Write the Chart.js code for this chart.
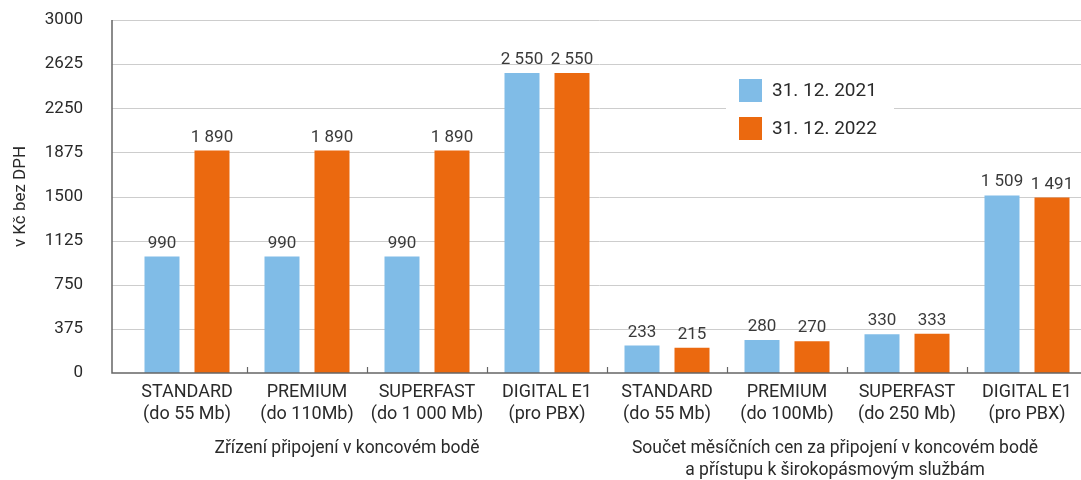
<!DOCTYPE html>
<html>
<head>
<meta charset="utf-8">
<script src="https://cdn.jsdelivr.net/npm/chart.js@4/dist/chart.umd.min.js"></script>
<style>
  html, body { margin: 0; padding: 0; background: #fff; overflow: hidden; width: 1081px; height: 480px; }
  #wrap { position: relative; width: 1087px; height: 480px; }
</style>
</head>
<body>
<div id="wrap"><canvas id="c"></canvas></div>
<script>
// ---- data ----
const categories = [
  ['STANDARD', '(do 55 Mb)'],
  ['PREMIUM', '(do 110Mb)'],
  ['SUPERFAST', '(do 1 000 Mb)'],
  ['DIGITAL E1', '(pro PBX)'],
  ['STANDARD', '(do 55 Mb)'],
  ['PREMIUM', '(do 100Mb)'],
  ['SUPERFAST', '(do 250 Mb)'],
  ['DIGITAL E1', '(pro PBX)']
];
const series2021 = [990, 990, 990, 2550, 233, 280, 330, 1509];
const series2022 = [1890, 1890, 1890, 2550, 215, 270, 333, 1491];
const seriesNames = ['31. 12. 2021', '31. 12. 2022'];
const groupTitles = [
  ['Zřízení připojení v koncovém bodě'],
  ['Součet měsíčních cen za připojení v koncovém bodě', 'a přístupu k širokopásmovým službám']
];
const groupRanges = [[0, 3], [4, 7]];
const yTicks = [0, 375, 750, 1125, 1500, 1875, 2250, 2625, 3000];
const yTitle = 'v Kč bez DPH';

// ---- style ----
const BLUE = '#80BCE7';
const ORANGE = '#EB690F';
const FONT = 'Roboto, "Noto Sans", sans-serif';
const TEXT = '#2a2a2a';
const GRID = '#cdcdcd';
const AXIS = '#666666';
const AXIS_X = 112;
const groupShift = [-20, -12];

function fmt(v) {
  return String(v).replace(/\B(?=(\d{3})+(?!\d))/g, ' ');
}

const decor = {
  id: 'decor',
  beforeDatasetsDraw(chart) {
    const ctx = chart.ctx, y = chart.scales.y;
    ctx.save();
    ctx.strokeStyle = GRID;
    ctx.lineWidth = 1;
    yTicks.forEach(v => {
      if (v === 0) return;
      const py = Math.round(y.getPixelForValue(v)) + 0.5;
      ctx.beginPath();
      ctx.moveTo(AXIS_X, py);
      ctx.lineTo(chart.width, py);
      ctx.stroke();
    });
    ctx.restore();
  },
  afterDatasetsDraw(chart) {
    const ctx = chart.ctx, x = chart.scales.x, y = chart.scales.y;
    const bottom = y.getPixelForValue(0), top = y.getPixelForValue(3000);
    ctx.save();
    ctx.strokeStyle = AXIS;
    ctx.lineWidth = 1.5;
    ctx.beginPath();
    ctx.moveTo(AXIS_X, top);
    ctx.lineTo(AXIS_X, bottom);
    ctx.lineTo(chart.width, bottom);
    ctx.stroke();
    ctx.lineWidth = 1.2;
    for (let i = 0; i < categories.length - 1; i++) {
      const bx = Math.round((x.getPixelForValue(i) + x.getPixelForValue(i + 1)) / 2) + 0.5;
      ctx.beginPath();
      ctx.moveTo(bx, bottom);
      ctx.lineTo(bx, bottom - 6);
      ctx.stroke();
    }
    // value labels
    ctx.fillStyle = '#3a3a3a';
    ctx.font = '17px ' + FONT;
    ctx.textAlign = 'center';
    ctx.textBaseline = 'alphabetic';
    chart.data.datasets.forEach((ds, di) => {
      const meta = chart.getDatasetMeta(di);
      meta.data.forEach((bar, i) => {
        ctx.fillText(fmt(ds.data[i]), bar.x, bar.y - 9);
      });
    });
    ctx.restore();
  },
  afterDraw(chart) {
    const ctx = chart.ctx, x = chart.scales.x;
    ctx.save();
    // group titles
    ctx.fillStyle = TEXT;
    ctx.font = '17.5px ' + FONT;
    ctx.textAlign = 'center';
    ctx.textBaseline = 'middle';
    groupTitles.forEach((lines, g) => {
      const [a, b] = groupRanges[g];
      const cx = (x.getPixelForValue(a) + x.getPixelForValue(b)) / 2 + groupShift[g];
      lines.forEach((t, li) => ctx.fillText(t, cx, 449 + li * 22));
    });
    // legend
    ctx.fillStyle = '#ffffff';
    ctx.fillRect(726, 70, 168, 76);
    const colors = [BLUE, ORANGE];
    ctx.font = '19px ' + FONT;
    ctx.textAlign = 'left';
    seriesNames.forEach((n, i) => {
      const sy = 79 + i * 38;
      ctx.fillStyle = colors[i];
      ctx.fillRect(739, sy, 23, 23);
      ctx.fillStyle = TEXT;
      ctx.fillText(n, 772, sy + 12);
    });
    ctx.restore();
  }
};

new Chart(document.getElementById('c'), {
  type: 'bar',
  data: {
    labels: categories,
    datasets: [
      { label: seriesNames[0], data: series2021, backgroundColor: BLUE, categoryPercentage: 0.8333, barPercentage: 0.7 },
      { label: seriesNames[1], data: series2022, backgroundColor: ORANGE, categoryPercentage: 0.8333, barPercentage: 0.7 }
    ]
  },
  options: {
    responsive: true,
    maintainAspectRatio: false,
    animation: false,
    layout: { padding: { top: 20, left: 0, right: 0, bottom: 47 } },
    plugins: { legend: { display: false }, tooltip: { enabled: false } },
    scales: {
      x: {
        grid: { display: false, drawTicks: false },
        border: { display: false },
        ticks: { color: TEXT, font: { family: FONT, size: 18, lineHeight: 1.25 }, padding: 8, autoSkip: false, maxRotation: 0 },
        afterFit(s) { s.height = 60; }
      },
      y: {
        min: 0, max: 3000,
        afterBuildTicks(s) { s.ticks = yTicks.map(v => ({ value: v })); },
        grid: { display: false, drawTicks: false },
        border: { display: false },
        ticks: { color: TEXT, font: { family: FONT, size: 17 }, padding: 44, callback: v => String(v) },
        title: { display: true, text: yTitle, color: TEXT, font: { family: FONT, size: 17 }, padding: { top: 11, bottom: 0 } },
        afterFit(s) { s.width = 127; s.paddingTop = 10; s.paddingBottom = 10; }
      }
    }
  },
  plugins: [decor]
});
</script>
</body>
</html>
